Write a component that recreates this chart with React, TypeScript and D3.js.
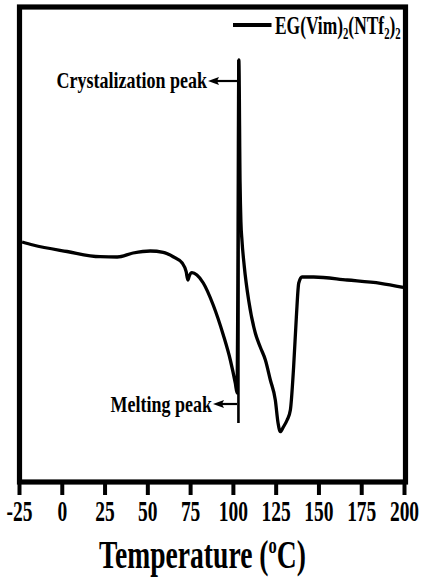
import React from "react";
import * as d3 from "d3";

const temps = [
  -23.5, -17.1, 2.8, 22.1, 32.1, 41.4, 51.4, 59.0, 64.8, 70.1, 72.4, 73.4, 74.2, 75.8, 78.7,
  82.4, 88.2, 94.1, 98.2, 101.1, 102.2, 102.6, 103.2, 103.9, 104.4, 105.0, 106.4,
  108.9, 112.8, 115.7, 118.7, 121.6, 124.5, 126.1, 127.4, 129.2, 131.4, 133.3, 135.2, 136.8,
  138.2, 140.1, 146.9, 166.5, 186.0, 199.2,
];
const heatFlow = [
  24.0, 23.7, 23.05, 22.53, 22.5, 22.9, 23.1, 22.97, 22.53, 21.9, 21.03, 20.2, 20.6, 20.93, 20.7,
  19.9, 17.7, 14.7, 12.2, 9.9, 8.9, 20.0, 42.2, 30.0, 26.0, 24.2, 21.5,
  18.2, 14.9, 13.5, 12.2, 10.2, 8.2, 5.9, 5.03, 5.5, 6.2, 7.2, 11.5, 16.5,
  19.9, 20.5, 20.5, 20.2, 19.87, 19.47,
];
const xTicks = [-25, 0, 25, 50, 75, 100, 125, 150, 175, 200];
const seriesName = ["EG(Vim)", "2", "(NTf", "2", ")", "2"];
const crystalLabel = "Crystalization peak";
const meltingLabel = "Melting peak";
const crystalT = 103.3;
const meltingT = 102.7;

const W = 424;
const H = 581;
const font = "'Liberation Serif', 'Times New Roman', serif";

export default function App() {
  const x = d3.scaleLinear().domain([-25, 200]).range([19.5, 404.5]);
  const y = d3.scaleLinear().domain([0, 47.5]).range([482, 7]);
  const pts: [number, number][] = temps.map((t, i) => [t, heatFlow[i]]);
  const line = d3
    .line<[number, number]>()
    .x((d) => x(d[0]))
    .y((d) => y(d[1]))
    .curve(d3.curveMonotoneX);

  const cx = x(crystalT);
  const mx = x(meltingT);

  const arrow = (xs: number, xe: number, yy: number) => (
    <g>
      <line x1={xs} x2={xe + 8} y1={yy} y2={yy} stroke="#000" strokeWidth={2.2} />
      <path d={`M${xe},${yy} L${xe + 11},${yy - 4} L${xe + 9},${yy} L${xe + 11},${yy + 4} Z`} fill="#000" />
    </g>
  );

  return (
    <svg
      width={W}
      height={H}
      style={{ position: "absolute", left: 0, top: 0, background: "#fff" }}
      fontFamily={font}
      fontWeight="bold"
    >
      <rect x={0} y={0} width={W} height={H} fill="#fff" />
      {/* data curve */}
      <path d={line(pts) || ""} fill="none" stroke="#000" strokeWidth={3.3} strokeLinejoin="round" />

      {/* annotation line */}
      <line x1={cx - 0.6} x2={cx - 0.6} y1={60} y2={423} stroke="#000" strokeWidth={2.6} />
      {arrow(cx - 1, 208, 81)}
      {arrow(mx - 1, 213, 404)}
      <text transform={`translate(207,87.5) scale(0.8,1)`} textAnchor="end" fontSize={22.5}>
        {crystalLabel}
      </text>
      <text transform={`translate(212,412) scale(0.8,1)`} textAnchor="end" fontSize={22.5}>
        {meltingLabel}
      </text>

      {/* legend */}
      <line x1={233} x2={271.5} y1={25} y2={25} stroke="#000" strokeWidth={4} />
      <text transform={`translate(275,34) scale(0.67,1)`} fontSize={26}>
        {seriesName.map((s, i) =>
          i % 2 === 1 ? (
            <tspan key={i} fontSize={16} dy={5}>
              {s}
            </tspan>
          ) : (
            <tspan key={i} dy={i === 0 ? 0 : -5}>
              {s}
            </tspan>
          )
        )}
      </text>

      {/* frame */}
      <rect x={19.5} y={7} width={386} height={475} fill="none" stroke="#000" strokeWidth={5.2} />

      {/* x ticks */}
      {xTicks.map((t) => (
        <g key={t}>
          <line x1={x(t)} x2={x(t)} y1={482} y2={495} stroke="#000" strokeWidth={4} />
          <text transform={`translate(${x(t)},521) scale(0.66,1)`} textAnchor="middle" fontSize={29.5}>
            {t}
          </text>
        </g>
      ))}

      {/* axis title */}
      <text transform={`translate(202.5,568) scale(0.69,1)`} textAnchor="middle" fontSize={40}>
        <tspan>Temperature (</tspan>
        <tspan fontSize={24} dy={-15}>o</tspan>
        <tspan dy={15}>C)</tspan>
      </text>
    </svg>
  );
}
